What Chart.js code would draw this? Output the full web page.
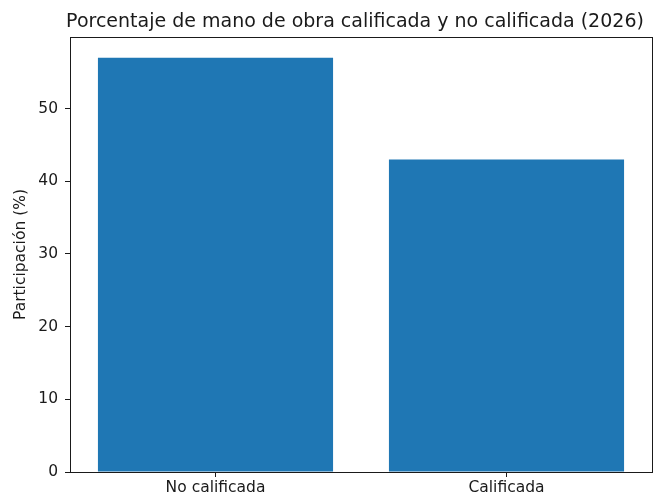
<!DOCTYPE html>
<html>
<head>
<meta charset="utf-8">
<script src="https://cdn.jsdelivr.net/npm/chart.js@4.4.1/dist/chart.umd.min.js"></script>
<style>
  html, body { margin: 0; padding: 0; background: #fff; }
  #wrap { width: 657px; height: 498px; }
</style>
</head>
<body>
<div id="wrap"><canvas id="grafico"></canvas></div>
<script>
// datos
var categorias = ['No calificada', 'Calificada'];
var participacion = [57, 43];
var ticksY = [0, 10, 20, 30, 40, 50];
var yMax = 59.85; // margen de 5% como matplotlib
var titulo = 'Porcentaje de mano de obra calificada y no calificada (2026)';

var azul = '#1f77b4';
var tinta = '#1a1a1a';
var fuente = '"DejaVu Sans", sans-serif';

// marco completo (spines arriba y derecha) + titulo centrado sobre el area
var marco = {
    id: 'marco',
    afterDatasetsDraw: function(chart) {
        var a = chart.chartArea, c = chart.ctx;
        c.save();
        c.strokeStyle = tinta;
        c.lineWidth = 1;
        c.strokeRect(Math.round(a.left) + 0.5, Math.round(a.top) + 0.5,
            Math.round(a.right - a.left), Math.round(a.bottom - a.top));
        c.fillStyle = tinta;
        c.font = '19px ' + fuente;
        c.textAlign = 'center';
        c.textBaseline = 'alphabetic';
        c.fillText(titulo, (a.left + a.right) / 2 - 6, 27);
        c.restore();
    }
};

Chart.defaults.font.family = fuente;
Chart.defaults.color = tinta;

var ctx = document.getElementById('grafico').getContext('2d');
var grafico = new Chart(ctx, {
    type: 'bar',
    data: {
        labels: categorias,
        datasets: [{
            label: 'Participación (%)',
            data: participacion,
            backgroundColor: azul,
            borderWidth: 0,
            categoryPercentage: 1,
            barPercentage: 0.808
        }]
    },
    options: {
        responsive: true,
        maintainAspectRatio: false,
        animation: false,
        layout: { padding: { top: 37, right: 5, bottom: 0, left: 0 } },
        plugins: {
            legend: { display: false },
            tooltip: { enabled: false },
            title: { display: false }
        },
        scales: {
            x: {
                offset: true,
                grid: { display: true, drawOnChartArea: false, tickLength: 5, tickColor: tinta, offset: false },
                border: { display: true, color: tinta },
                ticks: { font: { size: 15.5 }, padding: 2, color: tinta },
                afterFit: function(s) { s.height = 26; }
            },
            y: {
                min: 0,
                max: yMax,
                grid: { display: true, drawOnChartArea: false, tickLength: 5, tickColor: tinta },
                border: { display: true, color: tinta },
                ticks: { font: { size: 15.5 }, padding: 7, color: tinta },
                afterBuildTicks: function(s) { s.ticks = ticksY.map(function(v) { return { value: v }; }); },
                title: {
                    display: true,
                    text: 'Participación (%)',
                    font: { size: 15.5 },
                    color: tinta,
                    padding: { top: 12, bottom: 0 }
                },
                afterFit: function(s) { s.width = 70; }
            }
        }
    },
    plugins: [marco]
});
</script>
</body>
</html>
